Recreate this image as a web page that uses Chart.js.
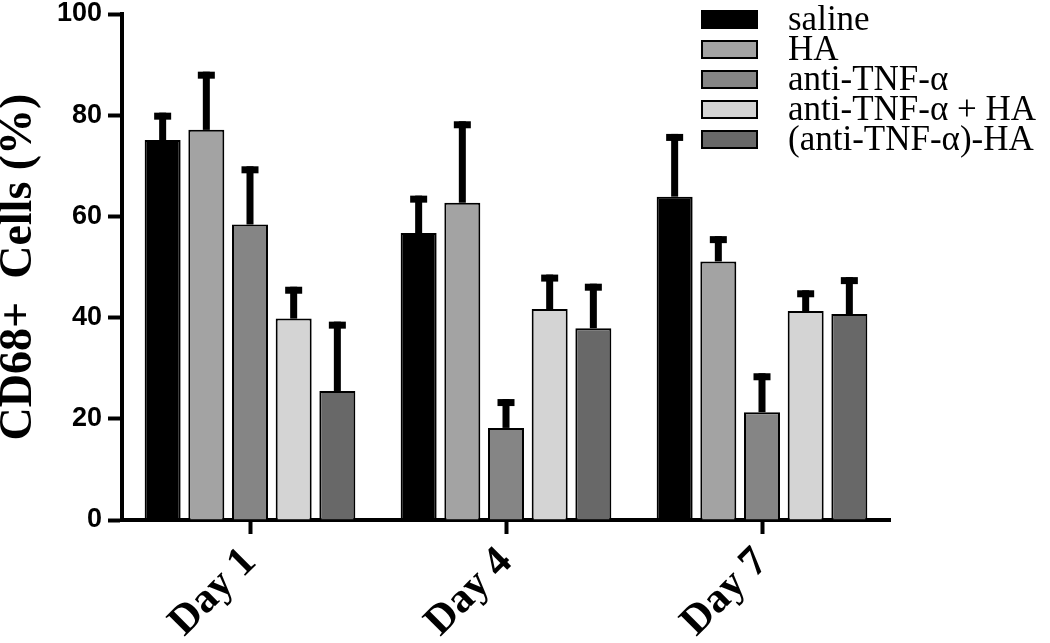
<!DOCTYPE html>
<html>
<head>
<meta charset="utf-8">
<script src="https://cdn.jsdelivr.net/npm/chart.js@4.4.0/dist/chart.umd.min.js"></script>
<style>
  html, body { margin: 0; padding: 0; background: #fff; }
</style>
</head>
<body>
<canvas id="chart" width="1050" height="643"></canvas>
<script>
// data
const days = ['Day 1', 'Day 4', 'Day 7'];
const groups = ['saline', 'HA', 'anti-TNF-α', 'anti-TNF-α + HA', '(anti-TNF-α)-HA'];
const saline = [75.1, 56.7, 63.9];
const ha = [77.1, 62.7, 51.1];
const antiTnf = [58.4, 18.2, 21.3];
const antiTnfPlusHa = [39.8, 41.7, 41.3];
const conjugate = [25.5, 37.9, 40.7];
// upper error bars (only the top half is shown in the figure)
const salineErr = [5.4, 7.4, 12.4];
const haErr = [11.5, 16.1, 5.0];
const antiTnfErr = [11.5, 5.7, 7.7];
const antiTnfPlusHaErr = [6.3, 6.8, 4.1];
const conjugateErr = [13.7, 8.8, 7.3];
const yTicks = [0, 20, 40, 60, 80, 100];

const fills = ['#000000', '#a3a3a3', '#858585', '#d4d4d4', '#686868'];
const values = [saline, ha, antiTnf, antiTnfPlusHa, conjugate];
const errors = [salineErr, haErr, antiTnfErr, antiTnfPlusHaErr, conjugateErr];

// error bars: stem + thick cap
const errorBars = {
  id: 'errorBars',
  afterDatasetsDraw(chart) {
    const ctx = chart.ctx;
    const y = chart.scales.y;
    ctx.save();
    ctx.fillStyle = '#000';
    chart.data.datasets.forEach((ds, i) => {
      const meta = chart.getDatasetMeta(i);
      meta.data.forEach((bar, j) => {
        const top = y.getPixelForValue(ds.data[j] + ds.errors[j]);
        ctx.fillRect(bar.x - 3.5, top, 7, bar.y - top);
        ctx.fillRect(bar.x - 8.5, top, 17, 7);
      });
    });
    ctx.restore();
  }
};

// legend box in the upper right corner
const boxLegend = {
  id: 'boxLegend',
  afterDraw(chart) {
    const ctx = chart.ctx;
    ctx.save();
    chart.data.datasets.forEach((ds, i) => {
      const top = 10 + i * 30;
      ctx.fillStyle = ds.backgroundColor;
      ctx.fillRect(701, top, 57, 19);
      ctx.strokeStyle = '#000';
      ctx.lineWidth = 2;
      ctx.strokeRect(702, top + 1, 55, 17);
      ctx.fillStyle = '#000';
      ctx.font = '35px "Liberation Serif"';
      ctx.textBaseline = 'middle';
      ctx.fillText(ds.label, 788, top + 11);
    });
    ctx.restore();
  }
};

new Chart(document.getElementById('chart'), {
  type: 'bar',
  data: {
    labels: days,
    datasets: groups.map((g, i) => ({
      label: g,
      data: values[i],
      errors: errors[i],
      backgroundColor: fills[i],
      borderColor: '#000',
      borderWidth: 2,
      categoryPercentage: 0.853,
      barPercentage: 0.824
    }))
  },
  options: {
    responsive: false,
    animation: false,
    devicePixelRatio: 1,
    layout: { padding: { top: 14, right: 160, bottom: 0, left: 0 } },
    plugins: { legend: { display: false }, tooltip: { enabled: false } },
    scales: {
      x: {
        z: 1,
        grid: { drawOnChartArea: false, offset: false, tickLength: 14, tickWidth: 4, tickColor: '#000' },
        border: { width: 4, color: '#000' },
        ticks: {
          color: '#000',
          font: { family: 'Liberation Serif', size: 42, weight: 'bold' },
          minRotation: 45, maxRotation: 45, padding: 4
        },
        afterFit(s) { s.height = 123; s.paddingLeft = 0; s.paddingRight = 0; }
      },
      y: {
        z: 1,
        min: 0, max: 100,
        afterBuildTicks(s) { s.ticks = yTicks.map(v => ({ value: v })); },
        grid: { drawOnChartArea: false, tickLength: 14, tickWidth: 4, tickColor: '#000' },
        border: { width: 4, color: '#000' },
        ticks: {
          color: '#000',
          font: { family: 'Liberation Sans', size: 27, weight: 'bold' },
          padding: 6
        },
        title: {
          display: true,
          text: 'CD68+  Cells (%)',
          color: '#000',
          font: { family: 'Liberation Serif', size: 46, weight: 'bold', lineHeight: 0.85 },
          padding: 0
        },
        afterFit(s) { s.width = 122; s.paddingTop = 0; s.paddingBottom = 0; }
      }
    }
  },
  plugins: [errorBars, boxLegend]
});
</script>
</body>
</html>
